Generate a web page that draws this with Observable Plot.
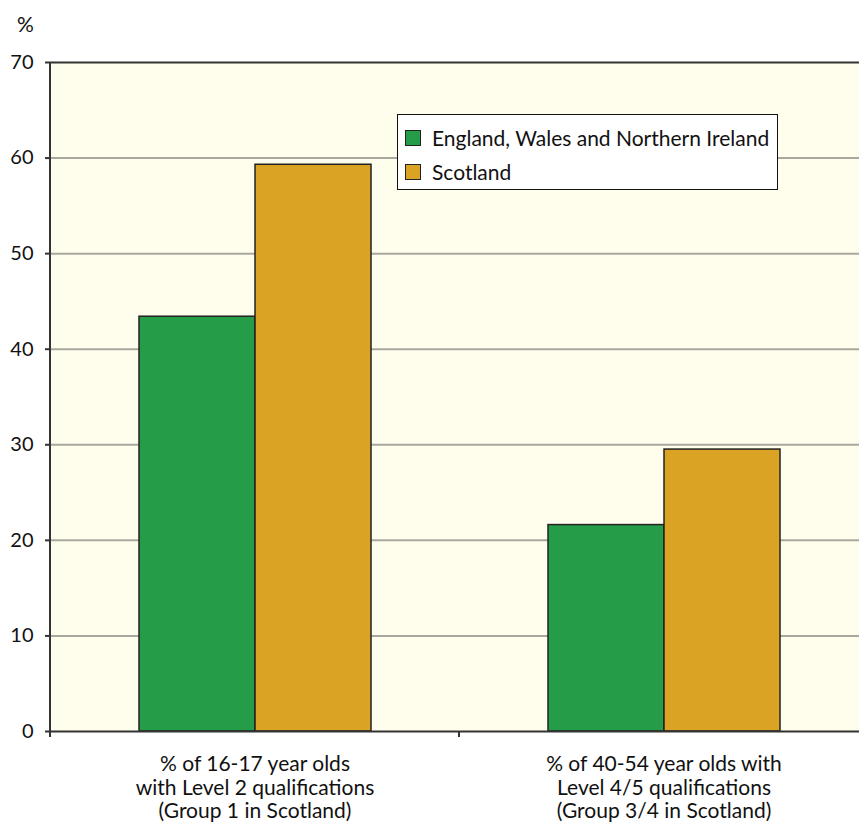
<!DOCTYPE html>
<html><head><meta charset="utf-8">
<script src="https://cdn.jsdelivr.net/npm/d3@7"></script>
<script src="https://cdn.jsdelivr.net/npm/@observablehq/plot@0.6"></script>
<style>
html,body{margin:0;padding:0;overflow:hidden;background:#fff;}
#wrap{position:relative;width:859px;height:830px;overflow:hidden;font-family:Lato,sans-serif;color:#111;}
#wrap svg{max-width:none !important;}
#pct{position:absolute;left:17px;top:11px;font-size:21px;}
#legend{position:absolute;left:397px;top:114px;width:379px;height:74px;background:#fff;border:1.5px solid #111;font-size:21px;}
.item{position:absolute;left:7px;display:flex;align-items:center;line-height:21px;}
.sw{width:14px;height:14px;border:1.2px solid #222;margin-right:11px;}
</style></head><body><div id="wrap"><div id="pct">%</div></div>
<script>
const groups = ["% of 16-17 year olds\nwith Level 2 qualifications\n(Group 1 in Scotland)", "% of 40-54 year olds with\nLevel 4/5 qualifications\n(Group 3/4 in Scotland)"];
const series = ["England, Wales and Northern Ireland", "Scotland"];
const ewni = [43.4, 21.6];
const scotland = [59.3, 29.5];
const yTicks = [0, 10, 20, 30, 40, 50, 60, 70];
const gridTicks = [10, 20, 30, 40, 50, 60];
const colors = ["#259d48", "#dba324"];

const data = groups.flatMap((g, i) => [
  {group: g, series: series[0], value: ewni[i]},
  {group: g, series: series[1], value: scotland[i]}
]);

const plot = Plot.plot({
  width: 868, height: 830,
  marginLeft: 50, marginRight: 0, marginTop: 62, marginBottom: 99,
  style: {fontFamily: "Lato", fontSize: "20px", background: "transparent", color: "#111", overflow: "visible", maxWidth: "none"},
  fx: {domain: groups, padding: 0, label: null},
  x: {domain: series, paddingInner: 0, paddingOuter: 0.755, axis: null},
  y: {domain: [0, 70], label: null},
  color: {domain: series, range: colors},
  marks: [
    Plot.frame({fill: "#fffdeb", stroke: null}),
    Plot.ruleY(gridTicks, {stroke: "#a8a8a0", strokeWidth: 2}),
    Plot.barY(data, {fx: "group", x: "series", y: "value", fill: "series", stroke: "#222", strokeWidth: 1.5}),
    Plot.ruleY([0, 70], {stroke: "#333", strokeWidth: 2}),
    Plot.axisY({ticks: yTicks, tickSize: 5, tickPadding: 12, fontSize: 20, stroke: "#333", strokeWidth: 2, label: null}),
    Plot.axisFx({anchor: "bottom", tickSize: 0, tickPadding: 23, lineHeight: 1.12, fontSize: 21, label: null})
  ]
});

const wrap = document.getElementById("wrap");
wrap.insertBefore(plot, wrap.firstChild);

// category-boundary ticks and left axis line, from the library's scales
const fxS = plot.scale("fx"), yS = plot.scale("y");
const y0 = yS.apply(0), y70 = yS.apply(70);
const starts = groups.map(g => fxS.apply(g));
const bounds = starts.concat([starts[starts.length - 1] + fxS.bandwidth]);
const svg = d3.select(plot);
svg.append("line").attr("x1", bounds[0]).attr("x2", bounds[0]).attr("y1", y70).attr("y2", y0 + 5)
  .attr("stroke", "#333").attr("stroke-width", 2);
svg.selectAll("line.bt").data(bounds).join("line").attr("class", "bt")
  .attr("x1", d => d).attr("x2", d => d).attr("y1", y0).attr("y2", y0 + 6)
  .attr("stroke", "#333").attr("stroke-width", 2);

// legend
const legend = document.createElement("div");
legend.id = "legend";
series.forEach((s, i) => {
  const it = document.createElement("div");
  it.className = "item";
  it.style.top = (i === 0 ? 12 : 46) + "px";
  const sw = document.createElement("div");
  sw.className = "sw";
  sw.style.background = colors[i];
  const tx = document.createElement("span");
  tx.textContent = s;
  it.appendChild(sw); it.appendChild(tx);
  legend.appendChild(it);
});
wrap.appendChild(legend);
</script>
</body></html>
